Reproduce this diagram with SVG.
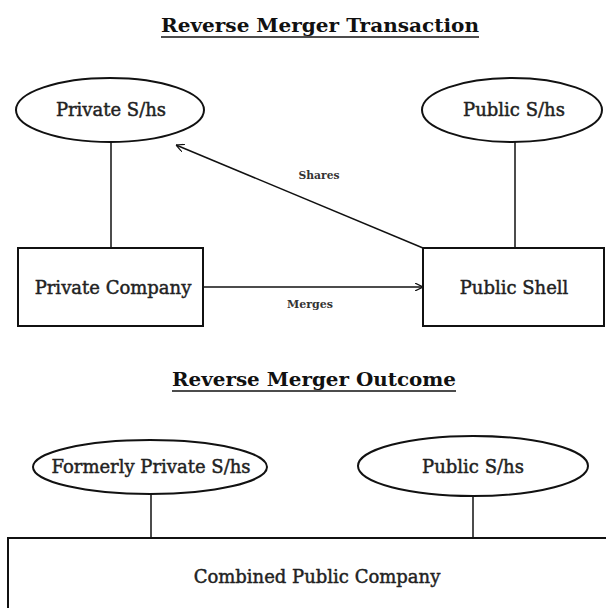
<svg xmlns="http://www.w3.org/2000/svg" width="606" height="608" viewBox="0 0 606 608">
<defs>
<style>
.t{font-family:"DejaVu Serif","Liberation Serif",serif;fill:#222;text-anchor:middle}
.title{font-weight:bold;font-size:19px;fill:#111}
.n{font-size:18px;stroke:#222;stroke-width:0.45}
.lbl{font-size:11px;font-weight:bold;fill:#333}
.shape{fill:#fff;stroke:#111;stroke-width:2}
.c{stroke:#111;stroke-width:1.5;fill:none}
.ul{stroke:#111;stroke-width:1.6}
</style>
<marker id="arr" viewBox="0 0 10 10" refX="10" refY="5" markerWidth="8" markerHeight="8" orient="auto" markerUnits="userSpaceOnUse">
<path d="M0,0 L10,5 L0,10" fill="none" stroke="#111" stroke-width="1.5"/>
</marker>
</defs>
<rect width="606" height="608" fill="#fff"/>
<g id="title1">
<text class="t title" x="320" y="32" textLength="318" lengthAdjust="spacingAndGlyphs">Reverse Merger Transaction</text>
<line class="ul" x1="161" y1="37" x2="479" y2="37"/>
</g>
<g id="connectors">
<line class="c" x1="111" y1="142" x2="111" y2="248"/>
<line class="c" x1="515" y1="142" x2="515" y2="248"/>
<line class="c" x1="203" y1="287" x2="423" y2="287" marker-end="url(#arr)"/>
<line class="c" x1="423" y1="248" x2="176" y2="145" marker-end="url(#arr)"/>
<line class="c" x1="151" y1="494" x2="151" y2="538"/>
<line class="c" x1="473" y1="496" x2="473" y2="538"/>
<text class="t lbl" x="319" y="179" textLength="41" lengthAdjust="spacingAndGlyphs">Shares</text>
<text class="t lbl" x="310" y="308" textLength="46" lengthAdjust="spacingAndGlyphs">Merges</text>
</g>
<g id="private-shs">
<ellipse class="shape" cx="110" cy="110" rx="94" ry="32"/>
<text class="t n" x="111" y="116">Private S/hs</text>
</g>
<g id="public-shs">
<ellipse class="shape" cx="512" cy="110" rx="90" ry="32"/>
<text class="t n" x="514" y="116">Public S/hs</text>
</g>
<g id="private-company">
<rect class="shape" x="18" y="248" width="185" height="78"/>
<text class="t n" x="113" y="294">Private Company</text>
</g>
<g id="public-shell">
<rect class="shape" x="423" y="248" width="181" height="78"/>
<text class="t n" x="514" y="294">Public Shell</text>
</g>
<g id="title2">
<text class="t title" x="314" y="386" textLength="284" lengthAdjust="spacingAndGlyphs">Reverse Merger Outcome</text>
<line class="ul" x1="172" y1="391" x2="456" y2="391"/>
</g>
<g id="formerly-private-shs">
<ellipse class="shape" cx="150" cy="467" rx="117" ry="27"/>
<text class="t n" x="151" y="473">Formerly Private S/hs</text>
</g>
<g id="public-shs-2">
<ellipse class="shape" cx="473" cy="466" rx="115" ry="30"/>
<text class="t n" x="473" y="473">Public S/hs</text>
</g>
<g id="combined-public-company">
<rect class="shape" x="8" y="538" width="610" height="90"/>
<text class="t n" x="317" y="583">Combined Public Company</text>
</g>
</svg>
